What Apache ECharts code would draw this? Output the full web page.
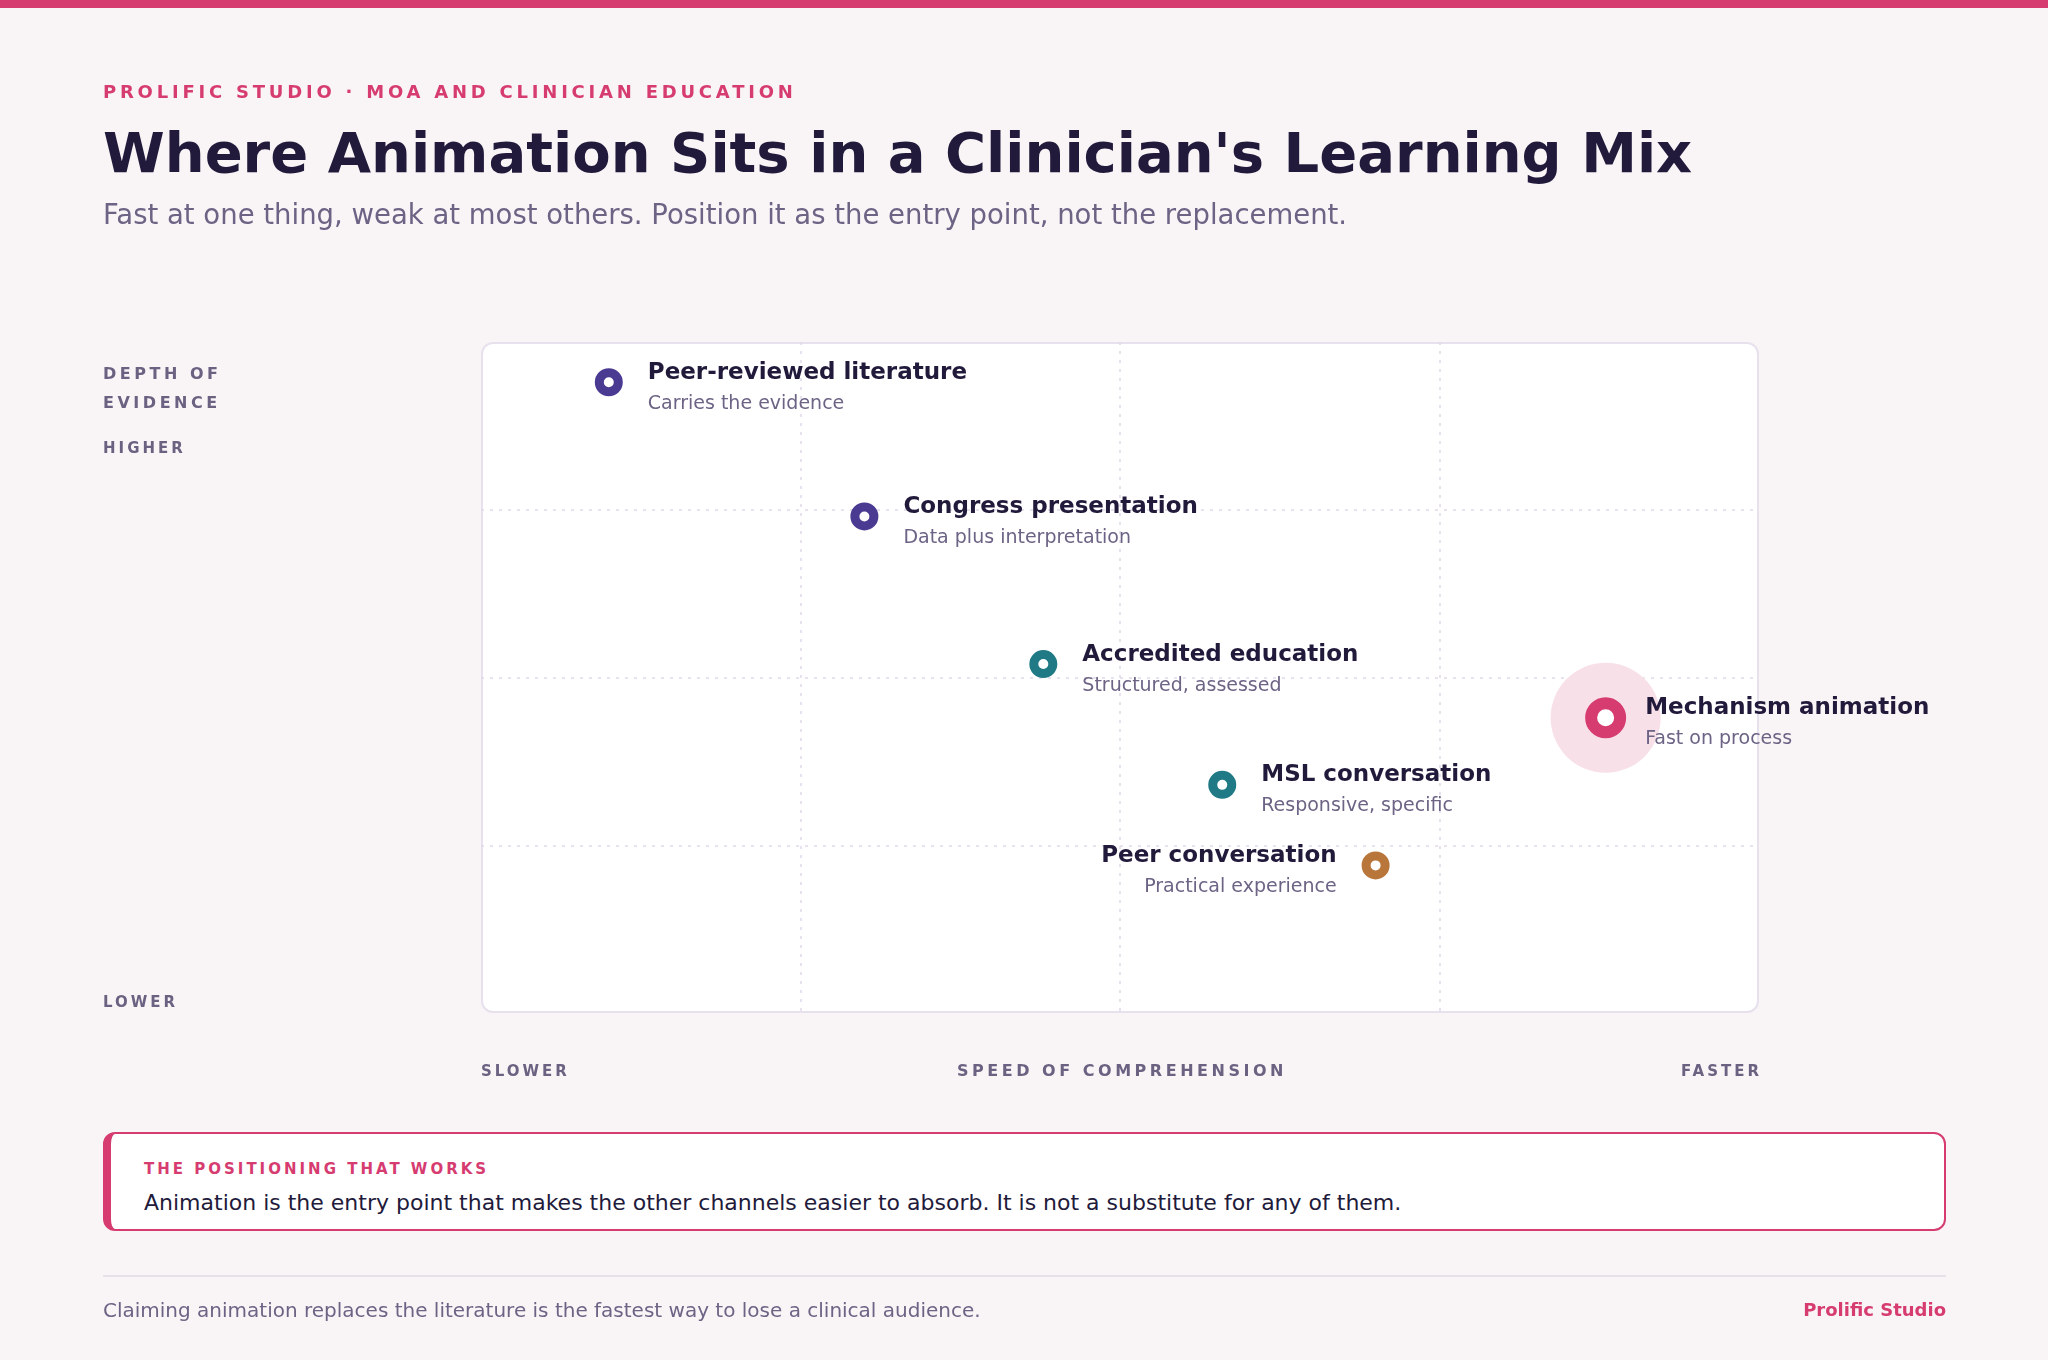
<!DOCTYPE html>
<html>
<head>
<meta charset="utf-8">
<title>Where Animation Sits in a Clinician's Learning Mix</title>
<script src="https://cdn.jsdelivr.net/npm/echarts@6.0.0/dist/echarts.min.js"></script>
<style>
  html, body { margin: 0; padding: 0; background: #f9f5f7; }
  #page { position: relative; width: 2048px; height: 1360px; overflow: hidden; font-family: 'DejaVu Sans', sans-serif; }
  .abs { position: absolute; white-space: nowrap; line-height: 1; }
  #topbar { left: 0; top: 0; width: 2048px; height: 8px; background: #d63c70; }
  #kicker { left: 103px; top: 83px; font-size: 18px; font-weight: bold; letter-spacing: 0.21em; color: #d63c70; }
  #title { left: 103px; top: 125px; font-size: 56px; font-weight: bold; color: #221a3b; }
  #subtitle { left: 103px; top: 201px; font-size: 27.5px; color: #6d6385; }
  #panel { left: 481px; top: 342px; width: 1278px; height: 671px; box-sizing: border-box; border: 2px solid #e7e1ee; border-radius: 12px; background: #fff; }
  #chart { left: 0; top: 0; width: 2048px; height: 1360px; }
  .axisTitle { font-size: 16px; font-weight: bold; letter-spacing: 0.22em; color: #6b6282; }
  .axisEnd { font-size: 15px; font-weight: bold; letter-spacing: 0.2em; color: #6b6282; }
  #callout { left: 103px; top: 1132px; width: 1843px; height: 99px; box-sizing: border-box; border: 2px solid #d63c70; border-left-width: 8px; border-radius: 12px; background: #fff; }
  #calloutLabel { left: 144px; top: 1162px; font-size: 15px; font-weight: bold; letter-spacing: 0.2em; color: #d63c70; }
  #calloutText { left: 144px; top: 1192px; font-size: 22px; color: #221a3b; }
  #rule { left: 103px; top: 1275px; width: 1843px; height: 2px; background: #e6e0e8; }
  #footNote { left: 103px; top: 1300px; font-size: 20px; color: #6d6385; }
  #footBrand { right: 102px; top: 1301px; font-size: 18px; font-weight: bold; color: #d63c70; }
</style>
</head>
<body>
<div id="page">
  <div id="topbar" class="abs"></div>
  <div id="panel" class="abs"></div>
  <div id="chart" class="abs"></div>

  <div id="kicker" class="abs">PROLIFIC STUDIO · MOA AND CLINICIAN EDUCATION</div>
  <div id="title" class="abs">Where Animation Sits in a Clinician's Learning Mix</div>
  <div id="subtitle" class="abs">Fast at one thing, weak at most others. Position it as the entry point, not the replacement.</div>

  <div class="abs axisTitle" style="left:103px;top:366px;">DEPTH OF</div>
  <div class="abs axisTitle" style="left:103px;top:395px;">EVIDENCE</div>
  <div class="abs axisEnd" style="left:103px;top:441px;">HIGHER</div>
  <div class="abs axisEnd" style="left:103px;top:995px;">LOWER</div>
  <div class="abs axisEnd" style="left:481px;top:1064px;">SLOWER</div>
  <div class="abs axisTitle" style="left:1122px;top:1063px;transform:translateX(-50%);">SPEED OF COMPREHENSION</div>
  <div class="abs axisEnd" style="right:286px;top:1064px;">FASTER</div>

  <div id="callout" class="abs"></div>
  <div id="calloutLabel" class="abs">THE POSITIONING THAT WORKS</div>
  <div id="calloutText" class="abs">Animation is the entry point that makes the other channels easier to absorb. It is not a substitute for any of them.</div>

  <div id="rule" class="abs"></div>
  <div id="footNote" class="abs">Claiming animation replaces the literature is the fastest way to lose a clinical audience.</div>
  <div id="footBrand" class="abs">Prolific Studio</div>
</div>

<script>
'use strict';
// learning channels (0-100 on both axes)
var channels = ['Peer-reviewed literature', 'Congress presentation', 'Accredited education', 'Mechanism animation', 'MSL conversation', 'Peer conversation'];
var notes = ['Carries the evidence', 'Data plus interpretation', 'Structured, assessed', 'Fast on process', 'Responsive, specific', 'Practical experience'];
var speed = [10, 30, 44, 88, 58, 70];
var depth = [94, 74, 52, 44, 34, 22];
var kinds = ['evidence', 'evidence', 'structured', 'animation', 'structured', 'peer'];
var focus = 'Mechanism animation';

var kindColor = {
  evidence: '#4b3a92',
  structured: '#1f7a86',
  animation: '#d63c70',
  peer: '#b8763a'
};

function richFor(side) {
  var a = side === 'left' ? 'right' : 'left';
  return {
    n: { fontFamily: 'DejaVu Sans', fontSize: 23, fontWeight: 'bold', color: '#221a3b', lineHeight: 31, align: a },
    s: { fontFamily: 'DejaVu Sans', fontSize: 19, color: '#6d6385', lineHeight: 31, align: a }
  };
}

var points = [];
var halo = [];
for (var i = 0; i < channels.length; i++) {
  var isFocus = channels[i] === focus;
  // the peer conversation label sits on the left of its dot
  var side = kinds[i] === 'peer' ? 'left' : 'right';
  points.push({
    name: channels[i],
    value: [speed[i], depth[i]],
    symbolSize: isFocus ? 29 : 19,
    itemStyle: { color: '#ffffff', borderColor: kindColor[kinds[i]], borderWidth: isFocus ? 12 : 9, opacity: 1 },
    label: {
      position: side,
      distance: isFocus ? 19 : 25,
      offset: [0, 6],
      rich: richFor(side)
    }
  });
  if (isFocus) {
    halo.push([speed[i], depth[i]]);
  }
}

function axis() {
  return {
    type: 'value',
    min: 0,
    max: 100,
    interval: 25,
    axisLine: { show: false },
    axisTick: { show: false },
    axisLabel: { show: false },
    splitLine: {
      show: true,
      showMinLine: false,
      showMaxLine: false,
      lineStyle: { color: '#e0d9e8', width: 1.5, type: [3, 6] }
    }
  };
}

var myChart = echarts.init(document.getElementById('chart'), null, { renderer: 'canvas' });
var option = {
  animation: false,
  textStyle: { fontFamily: 'DejaVu Sans' },
  grid: { left: 481, top: 342, width: 1278, height: 671 },
  xAxis: axis(),
  yAxis: axis(),
  series: [
    {
      type: 'scatter',
      z: 1,
      symbolSize: 110,
      itemStyle: { color: '#f8e0e9', opacity: 1 },
      silent: true,
      data: halo
    },
    {
      type: 'scatter',
      z: 3,
      data: points,
      itemStyle: { opacity: 1 },
      label: {
        show: true,
        formatter: function (p) {
          return '{n|' + p.name + '}\n{s|' + notes[p.dataIndex] + '}';
        }
      }
    }
  ]
};
myChart.setOption(option);
</script>
</body>
</html>
